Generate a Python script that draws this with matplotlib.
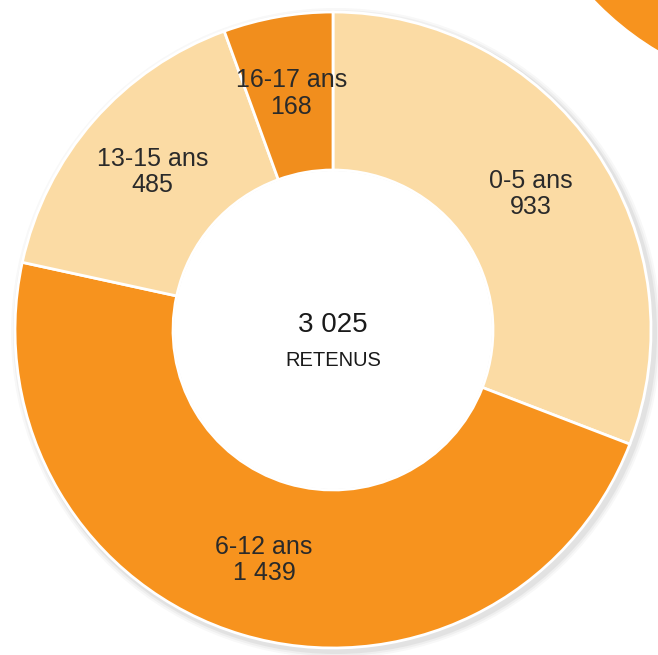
import numpy as np
import matplotlib.pyplot as plt
from matplotlib.patches import Circle

plt.rcParams['font.family'] = ['Liberation Sans', 'DejaVu Sans']

categories = ['0-5 ans', '6-12 ans', '13-15 ans', '16-17 ans']
values = [933, 1439, 485, 168]
value_labels = ['933', '1 439', '485', '168']
total_label = '3 025'
center_label = 'RETENUS'

light = '#fbdba4'
orange = '#f7931e'
colors = [light, orange, light, '#f18e1d']

fig = plt.figure(figsize=(6.58, 6.55), dpi=100)
ax = fig.add_axes([0, 0, 1, 1])

cx, cy = 333, 325
R = 318
ring = 158

# bit of another chart peeking in top right corner
ax.add_patch(Circle((812, 863), 300, color=orange, zorder=0))

# scan shadow
for k, a in [(7, 0.06), (5, 0.08), (3, 0.12)]:
    ax.add_patch(Circle((cx + 3, cy - 3), R + k, color='#888888', alpha=a, lw=0, zorder=0))

wedges, _ = ax.pie(values, colors=colors, startangle=90, counterclock=False,
                   center=(cx, cy), radius=R, frame=True,
                   wedgeprops=dict(width=ring, edgecolor='white', linewidth=2))
# white hole
ax.add_patch(Circle((cx, cy), R - ring - 1, color='white', lw=0, zorder=3))
ax.set_xlim(0, 658)
ax.set_ylim(0, 655)
ax.set_aspect('equal')
ax.axis('off')

for w, cat, lab in zip(wedges, categories, value_labels):
    ang = np.deg2rad((w.theta1 + w.theta2) / 2)
    r = 0.755 * R
    x = cx + r * np.cos(ang)
    y = cy + r * np.sin(ang)
    ax.text(x, y, cat + '\n' + lab, ha='center', va='center', fontsize=18,
            color='#2a2a2a', linespacing=1.15, zorder=5)

ax.text(cx, cy + 5, total_label, ha='center', va='center', fontsize=20,
        color='#1a1a1a', zorder=5)
ax.text(cx, cy - 31, center_label, ha='center', va='center', fontsize=14.5,
        color='#1a1a1a', zorder=5)

fig.savefig('out.png', dpi=100)
